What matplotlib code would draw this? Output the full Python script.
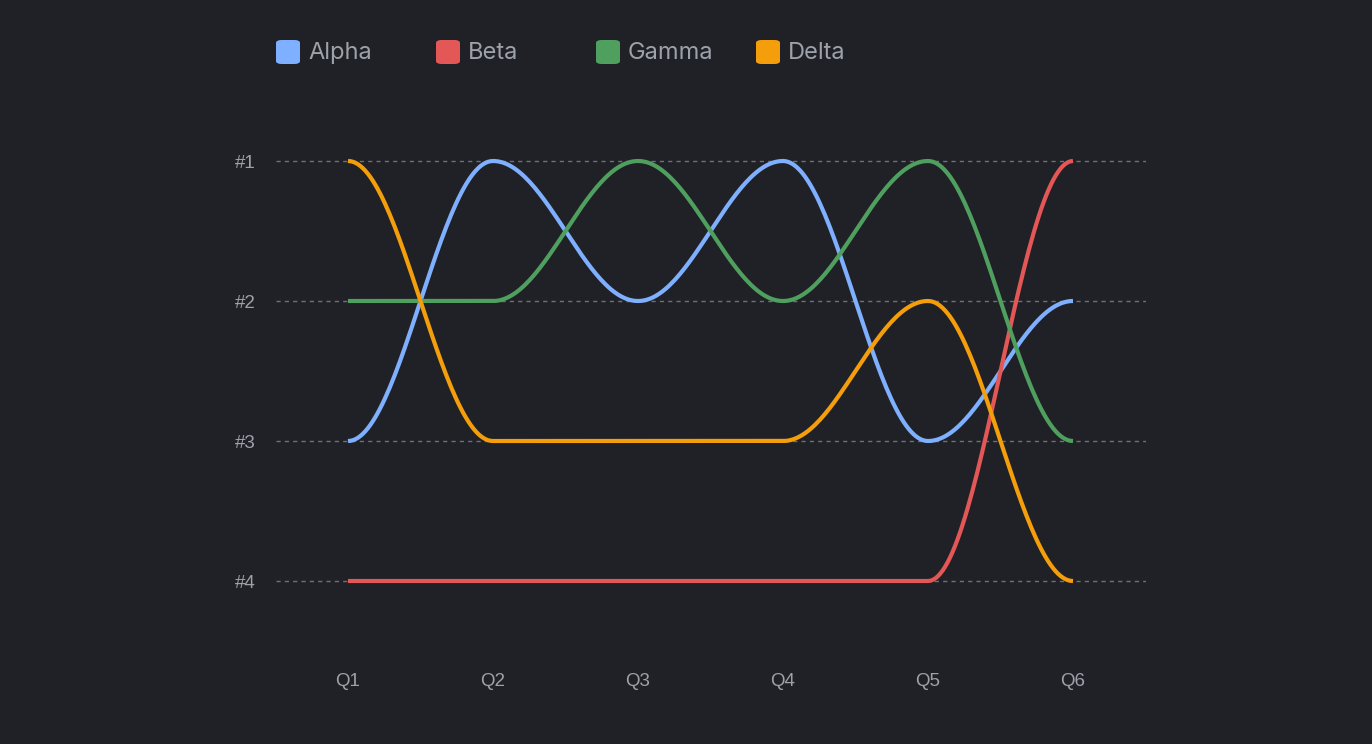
import numpy as np
import matplotlib
matplotlib.use('Agg')
import matplotlib.pyplot as plt
from matplotlib.patches import FancyBboxPatch

quarters = ['Q1', 'Q2', 'Q3', 'Q4', 'Q5', 'Q6']
rank_labels = ['#1', '#2', '#3', '#4']
names = ['Alpha', 'Beta', 'Gamma', 'Delta']
colors = ['#7fb0ff', '#e45757', '#4f9f5f', '#f59e0b']

alpha = [3, 1, 2, 1, 3, 2]
beta = [4, 4, 4, 4, 4, 1]
gamma = [2, 2, 1, 2, 1, 3]
delta = [1, 3, 3, 3, 2, 4]
series = [alpha, beta, gamma, delta]

bg = '#202126'
txt = '#9ca1aa'


def smooth(vals, n=60):
    # cosine easing between ranks, flat at each quarter
    xs, ys = [], []
    for i in range(len(vals) - 1):
        t = np.linspace(0, 1, n)
        e = (1 - np.cos(np.pi * t)) / 2
        xs.append(i + t)
        ys.append(vals[i] + (vals[i + 1] - vals[i]) * e)
    return np.concatenate(xs), np.concatenate(ys)


fig = plt.figure(figsize=(13.72, 7.44), dpi=100, facecolor=bg)
ax = fig.add_axes([275.5 / 1372, 93 / 744, 870 / 1372, 560 / 744])
ax.set_facecolor(bg)

for r in range(1, 5):
    ax.axhline(r, color='#6e7178', lw=1, ls=(0, (3, 3)), zorder=1)

for vals, c in zip(series, colors):
    x, y = smooth(vals)
    ax.plot(x, y, color=c, lw=3, solid_capstyle='butt', zorder=3)

ax.set_xlim(-0.5, 5.5)
ax.set_ylim(4.5, 0.5)
ax.set_xticks(range(len(quarters)))
ax.set_xticklabels(quarters)
ax.set_yticks(range(1, 5))
ax.set_yticklabels(rank_labels)
ax.tick_params(length=0, colors=txt, labelsize=13.5)
ax.tick_params(axis='x', pad=16)
ax.tick_params(axis='y', pad=14.5)
for lab in ax.get_xticklabels() + ax.get_yticklabels():
    lab.set_fontfamily('Liberation Sans')
for s in ax.spines.values():
    s.set_visible(False)

# legend row
for i, (n, c) in enumerate(zip(names, colors)):
    x0 = (276 + 160 * i) / 1372
    fig.patches.append(FancyBboxPatch((x0, 1 - 64 / 744), 24 / 1372, 24 / 744,
                                      boxstyle='round,pad=0,rounding_size=0.004',
                                      transform=fig.transFigure, fc=c, ec='none'))
    fig.text(x0 + 32 / 1372, 1 - 53 / 744, n, color=txt, fontsize=17,
             family='Inter', va='center', ha='left')

fig.savefig('out.png', facecolor=bg)
